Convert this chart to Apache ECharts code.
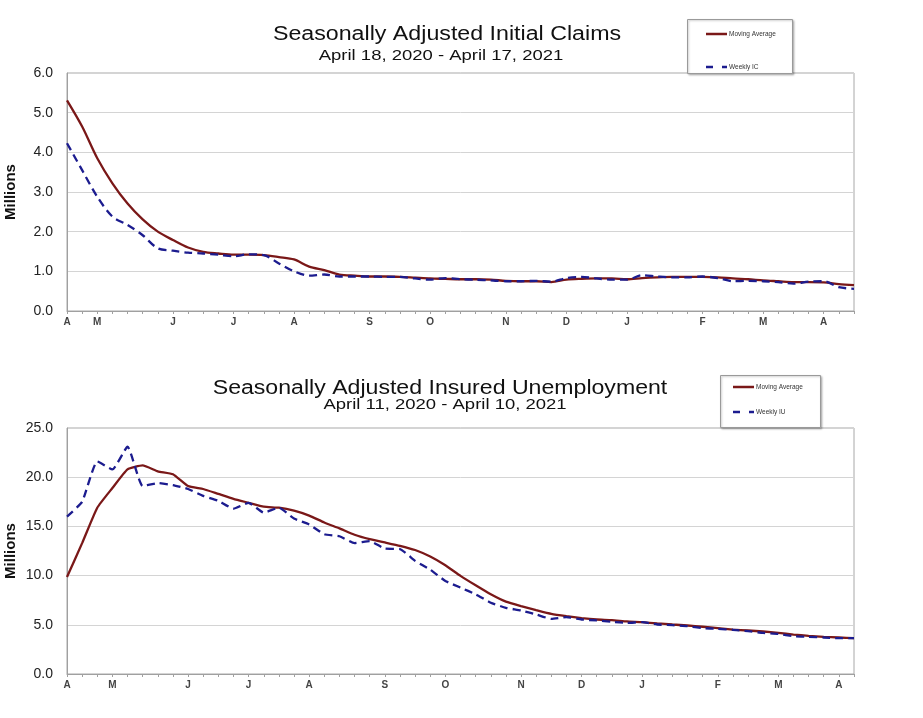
<!DOCTYPE html>
<html>
<head>
<meta charset="utf-8">
<script src="https://cdn.jsdelivr.net/npm/echarts@6/dist/echarts.min.js"></script>
<style>
html,body{margin:0;padding:0;background:#fff;}
#chart{width:923px;height:718px;}
</style>
</head>
<body>
<div id="chart"></div>
<script>
// ---- Data (millions) ----
const topStart = '2020-04-18';   // week ending dates, 53 weeks
const bottomStart = '2020-04-11';

const topMA = [5.31,4.65,3.85,3.22,2.71,2.31,2.00,1.79,1.60,1.49,1.45,1.42,1.42,1.41,1.36,1.30,1.12,
  1.03,0.92,0.89,0.87,0.87,0.86,0.84,0.82,0.81,0.80,0.80,0.79,0.76,0.75,0.75,0.73,0.79,0.81,0.82,0.82,
  0.80,0.83,0.85,0.86,0.86,0.86,0.85,0.82,0.80,0.77,0.75,0.73,0.73,0.72,0.68,0.65];
const topWeekly = [4.23,3.55,2.88,2.38,2.17,1.91,1.58,1.52,1.47,1.45,1.42,1.38,1.43,1.41,1.20,1.00,0.89,
  0.92,0.87,0.87,0.87,0.86,0.86,0.82,0.79,0.83,0.80,0.79,0.77,0.75,0.75,0.76,0.74,0.83,0.86,0.82,0.79,
  0.79,0.90,0.87,0.85,0.85,0.87,0.83,0.75,0.76,0.75,0.73,0.69,0.74,0.75,0.60,0.56];

const bottomMA = [9.86,13.3,16.9,18.9,20.8,21.2,20.6,20.3,19.1,18.8,18.3,17.8,17.4,17.0,16.9,16.6,16.1,
  15.4,14.8,14.15,13.7,13.37,13.03,12.6,11.94,11.05,9.97,9.01,8.1,7.35,6.9,6.5,6.12,5.88,5.68,5.54,5.48,
  5.34,5.27,5.14,5.03,4.93,4.8,4.66,4.52,4.42,4.32,4.18,4.01,3.88,3.78,3.71,3.64];
const bottomWeekly = [16.0,17.5,21.6,20.8,23.1,19.1,19.4,19.2,18.8,18.1,17.6,16.8,17.4,16.4,16.9,15.8,15.2,
  14.2,14.0,13.3,13.5,12.75,12.7,11.5,10.6,9.46,8.78,8.1,7.24,6.73,6.46,6.05,5.6,5.78,5.54,5.44,5.3,
  5.2,5.27,5.03,4.97,4.86,4.66,4.59,4.49,4.35,4.18,4.08,3.84,3.78,3.71,3.64,3.64];

// ---- Tick labels ----
const topTickIdx = [0,2,7,11,15,20,24,29,33,37,42,46,50];
const bottomTickIdx = [0,3,8,12,16,21,25,30,34,38,43,47,51];
const monthLetters = ['A','M','J','J','A','S','O','N','D','J','F','M','A'];
const topYTicks = [0,1,2,3,4,5,6];
const bottomYTicks = [0,5,10,15,20,25];

function weeks(start, n){
  const out=[]; const d=new Date(start+'T00:00:00Z');
  for(let i=0;i<n;i++){ const t=new Date(d.getTime()+i*7*86400000); out.push(t.toISOString().slice(0,10)); }
  return out;
}
const topWeeks = weeks(topStart, topMA.length);
const bottomWeeks = weeks(bottomStart, bottomMA.length);

const FONT = 'Liberation Sans, Arial, sans-serif';
const RED = '#7a1818';
const BLUE = '#1c1c8f';

function xAxis(gridIndex, cats, idxs){
  return {
    type:'category', gridIndex, data:cats, boundaryGap:false,
    axisLine:{lineStyle:{color:'#a0a0a0', width:1}},
    axisTick:{show:true, interval:0, length:3, lineStyle:{color:'#a0a0a0'}},
    axisLabel:{
      interval:(i)=>idxs.indexOf(i)>=0,
      formatter:(v,i)=>{const k=idxs.indexOf(i); return k>=0?monthLetters[k]:'';},
      fontFamily:FONT, fontSize:10, fontWeight:'bold', color:'#444', margin:6
    },
    splitLine:{show:false}
  };
}
function yAxis(gridIndex, ticks, gap){
  return {
    type:'value', gridIndex, min:ticks[0], max:ticks[ticks.length-1], interval:ticks[1]-ticks[0],
    name:'Millions', nameLocation:'middle', nameGap:gap, nameMoveOverlap:false,
    nameTextStyle:{fontFamily:FONT, fontSize:15, fontWeight:'bold', color:'#111'},
    axisLine:{show:true, lineStyle:{color:'#a0a0a0'}},
    axisTick:{show:false},
    axisLabel:{formatter:(v)=>v.toFixed(1), fontFamily:FONT, fontSize:14, color:'#222', margin:14},
    splitLine:{show:true, lineStyle:{color:'#d4d4d4', width:1}}
  };
}
function legend(x, y, w, h, label2, y1, y2, lx){
  return {
    type:'group', z:100, children:[
      {type:'rect', z:100, shape:{x:x, y:y, width:w, height:h}, style:{fill:'#fff', stroke:'#9a9a9a', lineWidth:1, shadowBlur:2, shadowColor:'rgba(0,0,0,0.25)', shadowOffsetX:1, shadowOffsetY:1}},
      {type:'line', z:101, shape:{x1:lx, y1:y1, x2:lx+21, y2:y1}, style:{stroke:RED, lineWidth:2.5}},
      {type:'text', z:101, x:lx+23, y:y1, style:{text:'Moving Average', font:'6.5px '+FONT, fill:'#333', verticalAlign:'middle'}},
      {type:'line', z:101, shape:{x1:lx, y1:y2, x2:lx+21, y2:y2}, style:{stroke:BLUE, lineWidth:2.5, lineDash:[7,9]}},
      {type:'text', z:101, x:lx+23, y:y2, style:{text:label2, font:'6.5px '+FONT, fill:'#333', verticalAlign:'middle'}}
    ]
  };
}
function txt(x,y,text,size,sx){
  return {type:'text', x, y, scaleX:sx, style:{text, font:size+'px '+FONT, fill:'#111', align:'center', verticalAlign:'middle'}};
}

const chart = echarts.init(document.getElementById('chart'), null, {renderer:'canvas'});
chart.setOption({
  backgroundColor:'#fff',
  animation:false,
  grid:[
    {left:67, right:69, top:73, height:238, containLabel:false, outerBoundsMode:'none', show:true, borderColor:'#a8a8a8', borderWidth:1, backgroundColor:'#fff'},
    {left:67, right:69, top:428, height:246, containLabel:false, outerBoundsMode:'none', show:true, borderColor:'#a8a8a8', borderWidth:1, backgroundColor:'#fff'}
  ],
  xAxis:[xAxis(0, topWeeks, topTickIdx), xAxis(1, bottomWeeks, bottomTickIdx)],
  yAxis:[yAxis(0, topYTicks, 49), yAxis(1, bottomYTicks, 49)],
  series:[
    {name:'Moving Average', type:'line', xAxisIndex:0, yAxisIndex:0, data:topMA, symbol:'none', smooth:0.3,
      lineStyle:{color:RED, width:2.3}},
    {name:'Weekly IC', type:'line', xAxisIndex:0, yAxisIndex:0, data:topWeekly, symbol:'none', smooth:0.3,
      lineStyle:{color:BLUE, width:2.3, type:[8,5]}},
    {name:'Moving Average', type:'line', xAxisIndex:1, yAxisIndex:1, data:bottomMA, symbol:'none', smooth:0.15,
      lineStyle:{color:RED, width:2.3}},
    {name:'Weekly IU', type:'line', xAxisIndex:1, yAxisIndex:1, data:bottomWeekly, symbol:'none', smooth:0.15,
      lineStyle:{color:BLUE, width:2.3, type:[8,5]}}
  ],
  graphic:[
    txt(447, 34, 'Seasonally Adjusted Initial Claims', 20, 1.16),
    txt(441, 56, 'April 18, 2020 - April 17, 2021', 14, 1.32),
    txt(440, 388, 'Seasonally Adjusted Insured Unemployment', 20, 1.155),
    txt(445, 405, 'April 11, 2020 - April 10, 2021', 14, 1.32),
    legend(687.5, 19.5, 105, 54, 'Weekly IC', 34, 67, 706),
    legend(720.5, 375.5, 100, 52, 'Weekly IU', 387, 412, 733)
  ]
});
</script>
</body>
</html>
